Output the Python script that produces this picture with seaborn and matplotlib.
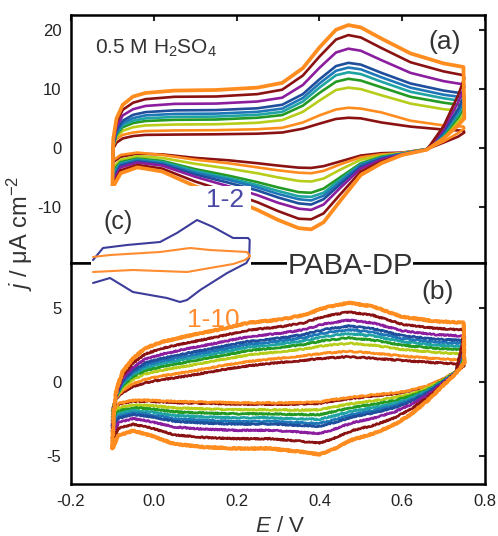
import matplotlib
matplotlib.use('Agg')
import matplotlib.pyplot as plt
import pandas as pd
import seaborn as sns

# ---------------- data ----------------
CYCLES = ['1', '2', '3', '4', '5', '6', '7', '8', '9', '10']
CYCLE_COLORS = ['#8B1212', '#FF8C1F', '#B8CC1A', '#249A24', '#1FA3A3',
                '#1E78B8', '#1F4F9C', '#8B1E9E', '#8B1212', '#FF8C1F']

# panel (a): 0.5 M H2SO4, anodic sweep then cathodic sweep
E_UP_A = [-0.100, -0.098, -0.090, -0.075, -0.050, -0.020, 0.050, 0.150, 0.250, 0.310,
          0.360, 0.400, 0.440, 0.470, 0.500, 0.550, 0.620, 0.700, 0.748]
J_UP_A = [
    [-2.5, -0.1, 0.9, 1.6, 2.0, 2.2, 2.25, 2.3, 2.4, 2.6, 3.25, 4.1, 4.9, 5.1, 5.0, 4.3, 3.6, 3.1, 2.9],
    [-2.2, 0.4, 1.5, 2.2, 2.6, 2.85, 2.95, 3.0, 3.15, 3.4, 4.3, 5.5, 6.5, 6.8, 6.65, 6.0, 4.6, 3.8, 3.6],
    [-3.4, 0.3, 1.85, 2.9, 3.5, 3.8, 3.95, 4.0, 4.25, 4.7, 6.1, 8.0, 9.8, 10.2, 9.95, 8.9, 7.5, 6.55, 6.2],
    [-4.0, 0.4, 2.25, 3.5, 4.2, 4.55, 4.75, 4.8, 5.1, 5.55, 7.15, 9.3, 11.2, 11.7, 11.4, 10.25, 8.65, 7.65, 7.2],
    [-4.5, 0.4, 2.45, 3.85, 4.6, 5.0, 5.25, 5.3, 5.6, 6.1, 7.85, 10.2, 12.3, 12.8, 12.5, 11.2, 9.5, 8.4, 7.9],
    [-5.0, 0.4, 2.65, 4.2, 5.05, 5.5, 5.75, 5.8, 6.1, 6.65, 8.45, 10.9, 13.05, 13.6, 13.3, 11.95, 10.2, 9.0, 8.55],
    [-5.4, 0.5, 3.0, 4.6, 5.6, 6.05, 6.35, 6.4, 6.7, 7.3, 9.1, 11.6, 13.85, 14.4, 14.1, 12.7, 10.9, 9.7, 9.2],
    [-5.9, 0.8, 3.6, 5.5, 6.55, 7.1, 7.45, 7.5, 7.85, 8.5, 10.65, 13.55, 16.15, 16.8, 16.45, 14.85, 12.7, 11.3, 10.75],
    [-6.3, 1.2, 4.35, 6.45, 7.65, 8.25, 8.65, 8.7, 9.1, 9.85, 12.25, 15.45, 18.35, 19.1, 18.7, 16.9, 14.5, 12.95, 12.3],
    [-6.8, 1.5, 5.0, 7.3, 8.7, 9.3, 9.7, 9.8, 10.2, 11.0, 13.5, 17.0, 20.0, 20.8, 20.4, 18.5, 16.0, 14.3, 13.7],
]
E_DN_A = [0.750, 0.735, 0.700, 0.660, 0.600, 0.550, 0.500, 0.450, 0.410, 0.380,
          0.350, 0.300, 0.250, 0.180, 0.100, 0.020, -0.040, -0.080, -0.100]
J_DN_A = [
    [2.6, 1.9, 0.9, -0.2, -0.8, -0.9, -1.3, -2.3, -3.1, -3.4, -3.35, -3.0, -2.6, -2.1, -1.7, -1.1, -1.0, -1.5, -2.5],
    [3.3, 2.5, 1.1, -0.2, -0.9, -1.1, -1.6, -2.8, -3.9, -4.3, -4.2, -3.8, -3.3, -2.6, -2.0, -1.2, -0.8, -1.2, -2.2],
    [5.8, 4.4, 1.9, -0.2, -0.9, -1.3, -2.0, -3.7, -5.2, -5.7, -5.6, -5.0, -4.3, -3.5, -2.7, -1.7, -1.4, -2.0, -3.4],
    [6.8, 5.1, 2.2, -0.2, -1.0, -1.5, -2.6, -5.0, -6.9, -7.6, -7.5, -6.7, -5.8, -4.7, -3.6, -2.2, -1.8, -2.4, -4.0],
    [7.5, 5.6, 2.4, -0.2, -1.0, -1.6, -2.8, -5.4, -7.6, -8.3, -8.2, -7.3, -6.3, -5.1, -3.9, -2.4, -2.0, -2.6, -4.5],
    [8.1, 6.1, 2.6, -0.2, -1.0, -1.7, -2.9, -5.8, -8.1, -8.9, -8.7, -7.8, -6.7, -5.4, -4.2, -2.6, -2.1, -2.8, -5.0],
    [8.8, 6.6, 2.8, -0.2, -1.1, -1.8, -3.2, -6.2, -8.7, -9.6, -9.4, -8.4, -7.2, -5.9, -4.5, -2.8, -2.3, -3.0, -5.4],
    [10.3, 7.7, 3.2, -0.3, -1.1, -2.0, -3.5, -6.8, -9.6, -10.5, -10.3, -9.3, -8.0, -6.5, -4.9, -3.0, -2.5, -3.3, -5.9],
    [11.8, 8.9, 3.7, -0.3, -1.2, -2.3, -4.0, -7.9, -11.1, -12.1, -12.0, -10.7, -9.2, -7.5, -5.7, -3.5, -2.9, -3.8, -6.3],
    [5.0, 3.8, 1.6, -0.3, -1.2, -2.6, -4.6, -9.0, -12.6, -13.8, -13.6, -12.2, -10.5, -8.5, -6.5, -4.0, -3.3, -4.3, -6.8],
]

# panel (b): PABA-DP
E_UP_B = [-0.100, -0.097, -0.090, -0.075, -0.050, -0.020, 0.020, 0.080, 0.150, 0.230,
          0.300, 0.360, 0.410, 0.470, 0.530, 0.600, 0.680, 0.748]
J_UP_B = [
    [-2.0, -1.6, -1.1, -0.7, -0.3, -0.05, 0.15, 0.4, 0.75, 1.1, 1.3, 1.45, 1.6, 1.7, 1.6, 1.45, 1.3, 1.2],
    [-1.93, -1.64, -1.04, -0.56, -0.11, 0.19, 0.41, 0.67, 1.03, 1.39, 1.59, 1.76, 1.94, 2.07, 1.95, 1.75, 1.58, 1.48],
    [-2.31, -1.7, -0.95, -0.35, 0.18, 0.54, 0.79, 1.08, 1.44, 1.83, 2.03, 2.21, 2.45, 2.61, 2.48, 2.19, 2.0, 1.9],
    [-2.55, -1.74, -0.89, -0.21, 0.37, 0.77, 1.04, 1.35, 1.71, 2.12, 2.32, 2.52, 2.79, 2.98, 2.83, 2.48, 2.28, 2.18],
    [-2.78, -1.77, -0.84, -0.10, 0.52, 0.96, 1.25, 1.56, 1.93, 2.35, 2.55, 2.76, 3.06, 3.27, 3.11, 2.72, 2.5, 2.4],
    [-2.98, -1.8, -0.8, 0.0, 0.65, 1.13, 1.43, 1.75, 2.13, 2.55, 2.75, 2.98, 3.3, 3.53, 3.35, 2.93, 2.7, 2.6],
    [-3.13, -1.83, -0.76, 0.1, 0.78, 1.29, 1.6, 1.94, 2.32, 2.75, 2.95, 3.19, 3.54, 3.78, 3.6, 3.13, 2.9, 2.8],
    [-3.48, -1.87, -0.69, 0.25, 0.99, 1.55, 1.88, 2.24, 2.62, 3.07, 3.27, 3.52, 3.91, 4.18, 3.98, 3.46, 3.2, 3.1],
    [-3.95, -1.93, -0.6, 0.46, 1.28, 1.9, 2.27, 2.64, 3.03, 3.51, 3.71, 3.98, 4.42, 4.73, 4.5, 3.9, 3.62, 3.52],
    [-4.5, -2.0, -0.5, 0.7, 1.6, 2.3, 2.7, 3.1, 3.5, 4.0, 4.2, 4.5, 5.0, 5.35, 5.1, 4.4, 4.1, 4.0],
]
E_DN_B = [0.750, 0.730, 0.700, 0.660, 0.620, 0.580, 0.530, 0.480, 0.430, 0.400,
          0.350, 0.280, 0.200, 0.120, 0.050, -0.010, -0.050, -0.085, -0.100]
J_DN_B = [
    [1.1, 0.7, 0.2, -0.3, -0.6, -0.8, -0.95, -1.1, -1.3, -1.45, -1.5, -1.5, -1.5, -1.45, -1.4, -1.3, -1.3, -1.5, -2.0],
    [1.4, 0.7, 0.21, -0.27, -0.55, -0.74, -0.87, -1.02, -1.2, -1.35, -1.4, -1.41, -1.41, -1.36, -1.32, -1.23, -1.24, -1.44, -1.93],
    [1.8, 0.69, 0.15, -0.43, -0.8, -1.06, -1.27, -1.45, -1.71, -1.88, -1.9, -1.88, -1.88, -1.82, -1.75, -1.59, -1.55, -1.76, -2.31],
    [2.1, 0.68, 0.11, -0.52, -0.95, -1.26, -1.51, -1.72, -2.03, -2.21, -2.2, -2.16, -2.16, -2.1, -2.02, -1.81, -1.74, -1.96, -2.55],
    [2.3, 0.67, 0.08, -0.61, -1.1, -1.45, -1.74, -1.97, -2.32, -2.52, -2.49, -2.43, -2.43, -2.36, -2.27, -2.01, -1.92, -2.15, -2.78],
    [2.5, 0.66, 0.04, -0.69, -1.22, -1.62, -1.94, -2.19, -2.59, -2.8, -2.75, -2.67, -2.67, -2.6, -2.49, -2.2, -2.08, -2.32, -2.98],
    [2.7, 0.66, 0.02, -0.75, -1.32, -1.75, -2.1, -2.36, -2.79, -3.0, -2.94, -2.85, -2.85, -2.78, -2.66, -2.34, -2.2, -2.45, -3.13],
    [3.0, 0.64, -0.04, -0.89, -1.54, -2.04, -2.45, -2.75, -3.25, -3.49, -3.39, -3.27, -3.27, -3.19, -3.05, -2.66, -2.48, -2.74, -3.48],
    [3.4, 0.62, -0.11, -1.08, -1.85, -2.44, -2.94, -3.28, -3.87, -4.14, -4.0, -3.84, -3.84, -3.75, -3.58, -3.09, -2.86, -3.14, -3.95],
    [1.3, 0.6, -0.2, -1.3, -2.2, -2.9, -3.5, -3.9, -4.6, -4.9, -4.7, -4.5, -4.5, -4.4, -4.2, -3.6, -3.3, -3.6, -4.5],
]

# inset (c): cycles 1-2 vs 1-10 (arbitrary current scale)
INSET_BLUE_E = [-0.100, -0.046, 0.084, 0.263, 0.354, 0.463, 0.550, 0.658, 0.739, 0.748,
                0.745, 0.730, 0.626, 0.480, 0.409, 0.371, 0.300, 0.116, -0.008, -0.100]
INSET_BLUE_J = [1.0, 3.4, 4.0, 4.6, 6.4, 9.0, 7.6, 5.4, 5.4, 5.0,
                1.4, 0.4, -1.6, -5.0, -7.0, -7.4, -6.6, -5.4, -2.6, -3.6]
INSET_ORANGE_E = [-0.100, -0.008, 0.263, 0.425, 0.533, 0.733, 0.750, 0.723, 0.658, 0.409, 0.116, -0.100]
INSET_ORANGE_J = [1.6, 2.0, 2.6, 3.4, 3.0, 2.6, 1.8, 1.0, 0.2, -1.4, -1.0, -1.4]

X_TICKS = [-0.2, 0.0, 0.2, 0.4, 0.6, 0.8]
X_TICK_LABELS = ['-0.2', '0.0', '0.2', '0.4', '0.6', '0.8']
Y_TICKS_A = [-10, 0, 10, 20]
Y_TICKS_B = [-5, 0, 5]


def loop_frame(e_up, j_up, e_dn, j_dn):
    parts = []
    for name, ju, jd in zip(CYCLES, j_up, j_dn):
        parts.append(pd.DataFrame({'E': e_up + e_dn, 'j': ju + jd, 'cycle': name}))
    return pd.concat(parts, ignore_index=True)


def draw_cycles(ax, df):
    palette = dict(zip(CYCLES, CYCLE_COLORS))
    inner = df[df['cycle'] != '10']
    sns.lineplot(data=inner, x='E', y='j', hue='cycle', hue_order=CYCLES[:9], palette=palette,
                 sort=False, estimator=None, legend=False, linewidth=1.9, ax=ax)
    sns.lineplot(data=df[df['cycle'] == '10'], x='E', y='j', color=CYCLE_COLORS[9],
                 sort=False, estimator=None, legend=False, linewidth=2.7, ax=ax)
    for line in ax.lines:
        line.set_solid_joinstyle('round')


def style_axes(ax, yticks, ylim):
    ax.set_xlim(-0.2, 0.8)
    ax.set_ylim(*ylim)
    ax.set_xticks(X_TICKS)
    ax.set_yticks(yticks)
    ax.set_xlabel('')
    ax.set_ylabel('')
    for s in ax.spines.values():
        s.set_linewidth(1.8)
        s.set_color('black')
    ax.tick_params(direction='in', length=4, width=1.5, right=True, labelsize=12,
                   labelcolor='#222222', pad=7)


sns.set_theme(style='white')
plt.rcParams['font.family'] = ['Liberation Sans', 'DejaVu Sans']
plt.rcParams['axes.unicode_minus'] = False
plt.rcParams['mathtext.fontset'] = 'custom'
plt.rcParams['mathtext.rm'] = 'Liberation Sans'
plt.rcParams['mathtext.it'] = 'Liberation Sans:italic'

fig = plt.figure(figsize=(4.98, 5.36), dpi=100)
ax_a = fig.add_axes([0.1426, 0.5093, 0.8313, 0.4627])
ax_b = fig.add_axes([0.1426, 0.0970, 0.8313, 0.4123])

draw_cycles(ax_a, loop_frame(E_UP_A, J_UP_A, E_DN_A, J_DN_A))
draw_cycles(ax_b, loop_frame(E_UP_B, J_UP_B, E_DN_B, J_DN_B))
for line in ax_b.lines:
    line.set_sketch_params(0.6, 1.5, 2.0)

style_axes(ax_a, Y_TICKS_A, (-19.5, 22.5))
ax_a.tick_params(top=True, bottom=False, labelbottom=False)
style_axes(ax_b, Y_TICKS_B, (-6.9, 8.04))
ax_b.tick_params(top=False)
ax_b.set_xticklabels(X_TICK_LABELS)

# inset (c)
ax_c = fig.add_axes([91 / 498, 1 - 320 / 536, 160 / 498, 134 / 536], zorder=5)
ax_c.set_facecolor('white')
inset_df = pd.concat([
    pd.DataFrame({'E': INSET_BLUE_E, 'j': INSET_BLUE_J, 'run': '1-2'}),
    pd.DataFrame({'E': INSET_ORANGE_E, 'j': INSET_ORANGE_J, 'run': '1-10'}),
], ignore_index=True)
sns.lineplot(data=inset_df, x='E', y='j', hue='run', palette={'1-2': '#3C3C9A', '1-10': '#FF8C30'},
             sort=False, estimator=None, legend=False, linewidth=1.5, ax=ax_c)
ax_c.set_xlim(-0.111, 0.755)
ax_c.set_ylim(-11, 15.8)
ax_c.set_xticks([])
ax_c.set_yticks([])
ax_c.set_xlabel('')
ax_c.set_ylabel('')
for s in ax_c.spines.values():
    s.set_visible(False)

# annotations
txt = '#333333'
fig.text(95 / 498, 1 - 48 / 536, '0.5 M H$_2$SO$_4$', fontsize=15, color=txt, va='center')
fig.text(445 / 498, 1 - 42 / 536, '(a)', fontsize=19, color=txt, ha='center', va='center')
fig.text(438 / 498, 1 - 292 / 536, '(b)', fontsize=19, color=txt, ha='center', va='center')
fig.text(350 / 498, 1 - 266 / 536, 'PABA-DP', fontsize=21, color=txt, ha='center', va='center',
         zorder=6, bbox=dict(facecolor='white', edgecolor='none', pad=0.5))
fig.text(118 / 498, 1 - 222 / 536, '(c)', fontsize=18, color=txt, ha='center', va='center', zorder=6)
fig.text(225 / 498, 1 - 200 / 536, '1-2', fontsize=19, color='#4A4AA6', ha='center', va='center', zorder=6)
fig.text(213 / 498, 1 - 320 / 536, '1-10', fontsize=19, color='#FF8C30', ha='center', va='center', zorder=6)
fig.text(20 / 498, 1 - 233 / 536, r'$j$ / μA cm$^{-2}$', fontsize=17, color=txt, rotation=90,
         ha='center', va='center')
fig.text(280 / 498, 1 - 527 / 536, r'$E$ / V', fontsize=16, color=txt, ha='center', va='center')

fig.savefig('out.png', dpi=100)
